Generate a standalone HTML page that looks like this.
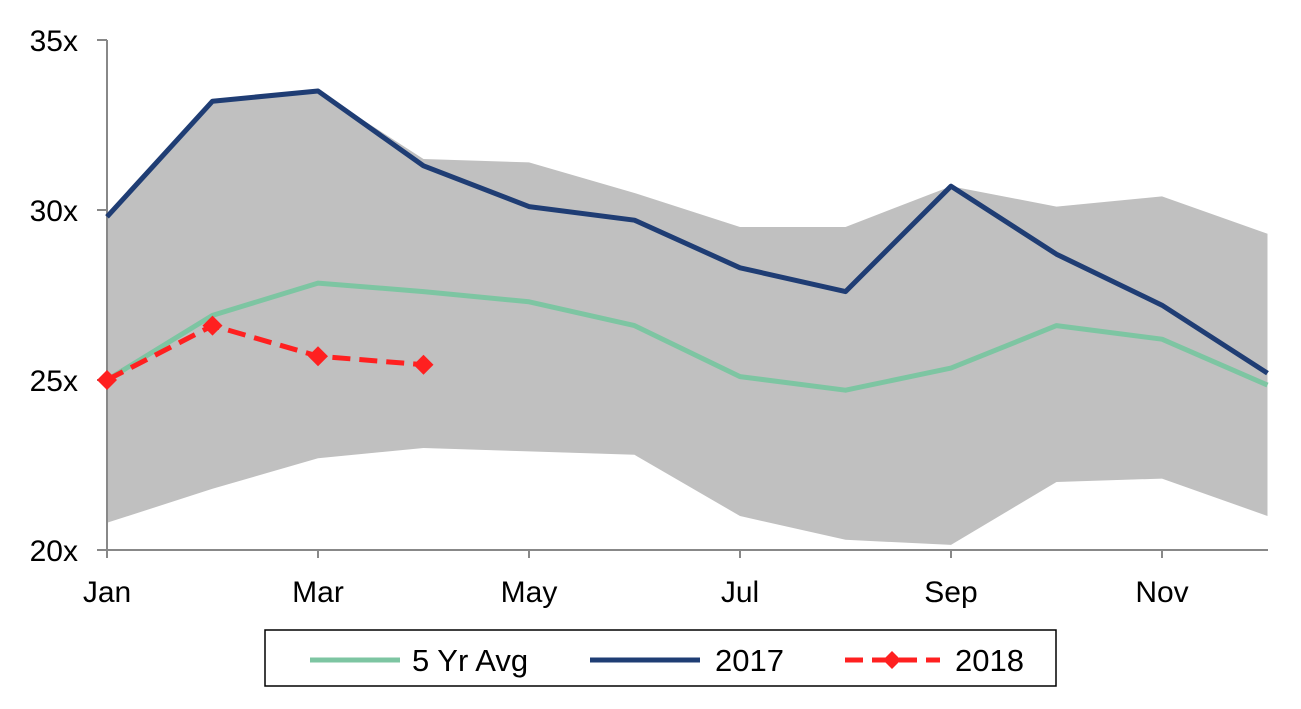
<!DOCTYPE html>
<html><head><meta charset="utf-8"><style>
body{margin:0;background:#fff;}
svg text{font-family:"Liberation Sans",Arial,sans-serif;}
</style></head><body>
<svg id="chart" width="1301" height="704" viewBox="0 0 1301 704" xmlns="http://www.w3.org/2000/svg">
<g id="band"></g>
<g id="axes"></g>
<g id="series"></g>
<g>
<rect x="265" y="630" width="791" height="56" fill="#fff" stroke="#000" stroke-width="1.5"/>
<line x1="310" y1="660" x2="400" y2="660" stroke="#7dc5a2" stroke-width="5"/>
<text x="412" y="671" font-size="31">5 Yr Avg</text>
<line x1="590" y1="660" x2="700" y2="660" stroke="#1f3d74" stroke-width="5"/>
<text x="715" y="671" font-size="31">2017</text>
<line x1="845" y1="660" x2="940" y2="660" stroke="#ff2020" stroke-width="5" stroke-dasharray="18,9"/>
<path d="M892 651 L901 660 L892 669 L883 660 Z" fill="#ff2020"/>
<text x="955" y="671" font-size="31">2018</text>
</g>
</svg>
<script>
const months=["Jan","Feb","Mar","Apr","May","Jun","Jul","Aug","Sep","Oct","Nov","Dec"];
const bandHigh=[29.8,33.2,33.5,31.5,31.4,30.5,29.5,29.5,30.7,30.1,30.4,29.3];
const bandLow=[20.8,21.8,22.7,23.0,22.9,22.8,21.0,20.3,20.15,22.0,22.1,21.0];
const avg5=[25.0,26.9,27.85,27.6,27.3,26.6,25.1,24.7,25.35,26.6,26.2,24.85];
const s2017=[29.8,33.2,33.5,31.3,30.1,29.7,28.3,27.6,30.7,28.7,27.2,25.2];
const s2018=[25.0,26.6,25.7,25.45];
const yTicks=[20,25,30,35];
const xLabels=["Jan","Mar","May","Jul","Sep","Nov"];
const NS="http://www.w3.org/2000/svg";
const x=i=>107+i*105.5;
const y=v=>550-(v-20)*34;
function mk(tag,attrs,parent){const e=document.createElementNS(NS,tag);for(const k in attrs)e.setAttribute(k,attrs[k]);parent.appendChild(e);return e;}
const band=document.getElementById('band'),axes=document.getElementById('axes'),ser=document.getElementById('series');
let d=bandHigh.map((v,i)=>(i?'L':'M')+x(i)+' '+y(v)).join(' ');
for(let i=bandLow.length-1;i>=0;i--)d+=' L'+x(i)+' '+y(bandLow[i]);
const bp=mk('path',{d:d+' Z',fill:'#c0c0c0'},band);


const ya=mk('line',{x1:107,y1:40,x2:107,y2:550,stroke:'#888','stroke-width':2},axes);


const xa=mk('line',{x1:107,y1:550,x2:1268,y2:550,stroke:'#888','stroke-width':2},axes);


yTicks.forEach(t=>{
 const tk=mk('line',{x1:97,y1:y(t),x2:107,y2:y(t),stroke:'#888','stroke-width':2},axes);
 
 
 const tx=mk('text',{x:78,y:y(t)+11,'font-size':30,'text-anchor':'end'},axes);
 tx.textContent=t+'x';
 
 
});
for(let i=0;i<=months.length;i++){
 const tk=mk('line',{x1:x(i*2>12?12:i*2),y1:550,x2:x(i*2>12?12:i*2),y2:558,stroke:'#888','stroke-width':2},axes);
 
 
 if(i*2>=11)break;
}
xLabels.forEach(l=>{
 const i=months.indexOf(l);
 const tx=mk('text',{x:x(i),y:602,'font-size':30,'text-anchor':'middle'},axes);
 tx.textContent=l;
 
 
});
function line(arr,color,dash,name){
 const p=mk('polyline',{points:arr.map((v,i)=>x(i)+','+y(v)).join(' '),fill:'none',stroke:color,'stroke-width':5,'stroke-linejoin':'round'},ser);
 if(dash)p.setAttribute('stroke-dasharray',dash);
 
 
}
line(avg5,'#7dc5a2',null,'line-5yr-avg');
line(s2017,'#1f3d74',null,'line-2017');
line(s2018,'#ff2020','18,9','line-2018');
s2018.forEach((v,i)=>{
 const m=mk('path',{d:`M${x(i)} ${y(v)-10} L${x(i)+10} ${y(v)} L${x(i)} ${y(v)+10} L${x(i)-10} ${y(v)} Z`,fill:'#ff2020'},ser);
 
 
});
</script>
</body></html>
